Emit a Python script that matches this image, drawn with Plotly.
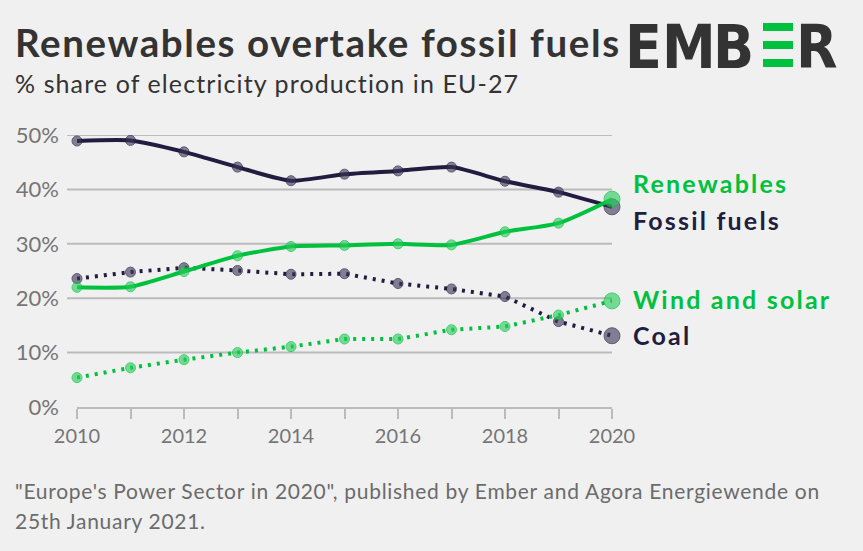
import plotly.graph_objects as go

years = list(range(2010, 2021))
fossil = [48.9, 49.0, 46.9, 44.1, 41.6, 42.8, 43.4, 44.1, 41.5, 39.5, 36.8]
renewables = [22.0, 22.1, 24.9, 27.8, 29.5, 29.7, 30.0, 29.8, 32.2, 33.8, 38.2]
coal = [23.6, 24.8, 25.6, 25.1, 24.4, 24.5, 22.7, 21.7, 20.3, 15.7, 13.1]
wind_solar = [5.4, 7.2, 8.7, 10.0, 11.1, 12.5, 12.5, 14.2, 14.8, 16.9, 19.5]
series_names = ["Renewables", "Fossil fuels", "Wind and solar", "Coal"]
x_ticks = [2010, 2012, 2014, 2016, 2018, 2020]
y_ticks = [0, 10, 20, 30, 40, 50]

W, H = 863, 551
ML, MR, MT, MB = 77, 251, 135, 144
PW, PH = W - ML - MR, H - MT - MB

def px(x):
    return (x - ML) / PW

def py(y):
    return (H - MB - y) / PH

DARK = "#221d40"
DARK_M = "rgba(60,54,88,0.88)"
GREEN = "#00c13d"
GREEN_M = "rgba(40,205,90,0.88)"
GRID = "#bbbbbb"
FONT = "Lato"

def sp(text, ls):
    return f"<span style='letter-spacing:{ls}px'>{text}</span>"

def sizes(n):
    return [10] * (n - 1) + [16]

fig = go.Figure()

for v in y_ticks[1:]:
    fig.add_shape(type="line", xref="paper", yref="y", x0=px(67), x1=1, y0=v, y1=v,
                  line=dict(color=GRID, width=2), layer="below")

fig.add_trace(go.Scatter(x=years, y=coal, mode="lines+markers",
                         line=dict(color=DARK, width=4, dash="3px,6px"),
                         marker=dict(color=DARK_M, size=sizes(len(years))), cliponaxis=False))
fig.add_trace(go.Scatter(x=years, y=fossil, mode="lines+markers",
                         line=dict(color=DARK, width=4, shape="spline", smoothing=0.6),
                         marker=dict(color=DARK_M, size=sizes(len(years))), cliponaxis=False))
fig.add_trace(go.Scatter(x=years, y=wind_solar, mode="lines+markers",
                         line=dict(color=GREEN, width=4, dash="3px,6px"),
                         marker=dict(color=GREEN_M, size=sizes(len(years))), cliponaxis=False))
fig.add_trace(go.Scatter(x=years, y=renewables, mode="lines+markers",
                         line=dict(color=GREEN, width=4, shape="spline", smoothing=0.6),
                         marker=dict(color=GREEN_M, size=sizes(len(years))), cliponaxis=False))

label_info = [(series_names[0], renewables[-1] + 2.9, GREEN),
              (series_names[1], fossil[-1] - 2.4, DARK),
              (series_names[2], wind_solar[-1] + 0.3, GREEN),
              (series_names[3], coal[-1] + 0.05, DARK)]
for name, yv, col in label_info:
    fig.add_annotation(x=2020, y=yv, xref="x", yref="y", text="<b>" + sp(name, 2.2) + "</b>",
                       showarrow=False, xanchor="left", xshift=19,
                       font=dict(family=FONT, size=25, color=col))

def txt(text, x, y, size, color, family=FONT, anchor="left"):
    fig.add_annotation(x=px(x), y=py(y), xref="paper", yref="paper", text=text,
                       showarrow=False, xanchor=anchor, yanchor="middle",
                       font=dict(family=family, size=size, color=color))

txt("<b>" + sp("Renewables overtake fossil fuels", 1.6) + "</b>", 13, 42, 38.5, "#333333")
txt(sp("% share of electricity production in EU-27", 1.1), 13, 83, 25, "#333333")
txt(sp("\"Europe's Power Sector in 2020\", published by Ember and Agora Energiewende on", 0.7), 13, 490, 21, "#6b6b6b")
txt(sp("25th January 2021.", 0.7), 13, 520, 21, "#6b6b6b")

# logo
for letter, cx in [("E", 643.5), ("M", 689), ("B", 733), ("R", 817)]:
    txt("<b>" + letter + "</b>", cx, 47, 60, "#333333", "DejaVu Sans Condensed, DejaVu Sans", "center")
for by in [23, 41, 59]:
    fig.add_shape(type="rect", xref="paper", yref="paper", x0=px(763), x1=px(793),
                  y0=py(by + 8), y1=py(by), fillcolor=GREEN, line=dict(width=0))

fig.update_layout(
    width=W, height=H, autosize=False,
    paper_bgcolor="#f0f0f0", plot_bgcolor="#f0f0f0",
    margin=dict(l=ML, r=MR, t=MT, b=MB, pad=0),
    showlegend=False,
    font=dict(family=FONT, color="#757575"),
)

fig.update_xaxes(range=[2010, 2020], tickvals=x_ticks, ticktext=[str(v) for v in x_ticks],
                 showgrid=False, zeroline=False, showline=True, linecolor=GRID, linewidth=2,
                 ticks="outside", ticklen=10, tickwidth=2, tickcolor=GRID,
                 minor=dict(dtick=1, tick0=2010, ticks="outside", ticklen=10, tickwidth=2, tickcolor=GRID, showgrid=False),
                 tickfont=dict(family=FONT, size=20, color="#757575"))
fig.update_yaxes(range=[0, 50], tickvals=y_ticks, ticktext=[f"{v}%" for v in y_ticks],
                 showgrid=False, zeroline=False,
                 ticks="", ticklabelstandoff=17,
                 tickfont=dict(family=FONT, size=22, color="#757575"))
fig.write_html("out.html", config={"displayModeBar": False},
               post_script="document.body.style.margin='0';document.body.style.background='#f0f0f0';")
